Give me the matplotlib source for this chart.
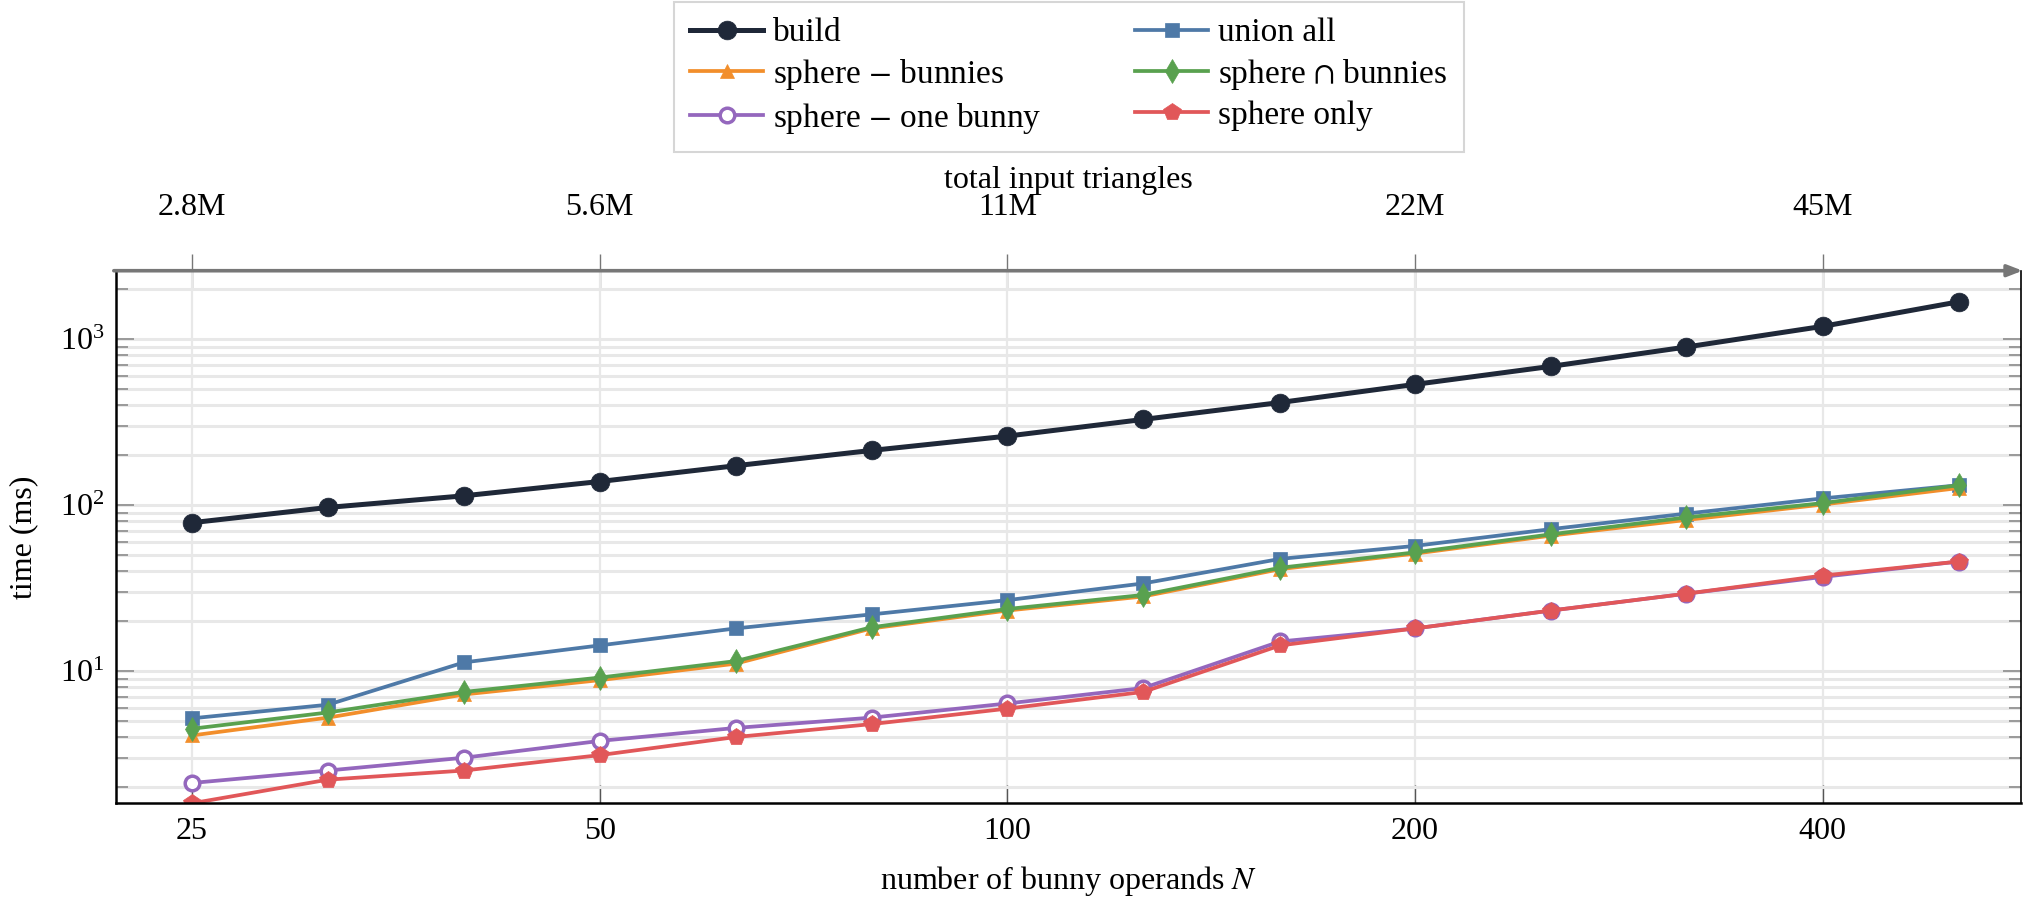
import matplotlib
matplotlib.use("Agg")
import matplotlib.pyplot as plt
from matplotlib.ticker import LogLocator, FixedLocator, NullFormatter, NullLocator

plt.rcParams['font.family'] = ['Liberation Serif', 'DejaVu Serif']
plt.rcParams['mathtext.fontset'] = 'stix'

# ---- data ----
n_bunnies = [25, 31.5, 39.7, 50, 63, 79.4, 100, 126, 159, 200, 252, 317, 400, 504]
build = [78.5, 97, 114, 139, 173, 214, 261, 329, 416, 535, 687, 898, 1197, 1683]
union_all = [5.2, 6.28, 11.3, 14.3, 18.1, 22.0, 26.8, 33.8, 47.5, 56.9, 71.8, 89.0, 110, 132]
sphere_minus_bunnies = [4.1, 5.25, 7.24, 8.83, 11.1, 18.1, 23.2, 28.2, 41.2, 51.1, 65.6, 81.5, 101, 127]
sphere_cap_bunnies = [4.5, 5.64, 7.5, 9.15, 11.5, 18.4, 23.7, 28.8, 42, 52, 66.8, 84.4, 103, 132]
sphere_minus_one = [2.12, 2.52, 3.01, 3.80, 4.55, 5.25, 6.39, 7.92, 15.1, 18.1, 23.2, 29.3, 37.0, 45.8]
sphere_only = [1.6, 2.22, 2.52, 3.12, 4.01, 4.80, 5.95, 7.50, 14.3, 18.1, 23.2, 29.3, 37.7, 45.8]

bottom_ticks = [25, 50, 100, 200, 400]
bottom_labels = ['25', '50', '100', '200', '400']
top_labels = ['2.8M', '5.6M', '11M', '22M', '45M']

series = [
    ('build', build, '#1f2838', 'o', 13.5, 3.6, 'full'),
    ('union all', union_all, '#4e79a7', 's', 10, 2.7, 'full'),
    (r'sphere $-$ bunnies', sphere_minus_bunnies, '#f28e2b', '^', 10.5, 2.7, 'full'),
    (r'sphere $\cap$ bunnies', sphere_cap_bunnies, '#59a14f', 'd', 12.5, 2.7, 'full'),
    (r'sphere $-$ one bunny', sphere_minus_one, '#9467bd', 'o', 10.5, 2.7, 'none'),
    ('sphere only', sphere_only, '#e15759', 'p', 13, 2.7, 'full'),
]

fig = plt.figure(figsize=(20.23, 8.97), dpi=100)
ax = fig.add_axes([0.0572, 0.1045, 0.99886 - 0.0572, 0.6982 - 0.1045])

handles = {}
for label, vals, color, marker, ms, lw, fill in series:
    if fill == 'none':
        h, = ax.plot(n_bunnies, vals, color=color, marker=marker, ms=ms, lw=lw,
                     markerfacecolor='white', markeredgewidth=2.5, label=label)
    else:
        h, = ax.plot(n_bunnies, vals, color=color, marker=marker, ms=ms, lw=lw,
                     markeredgewidth=0.5, label=label)
    handles[label] = h

ax.set_xscale('log', base=2)
ax.set_yscale('log')
ax.set_xlim(21.96, 560)
ax.set_ylim(1.6, 2590)

ax.xaxis.set_major_locator(FixedLocator(bottom_ticks))
ax.set_xticklabels(bottom_labels)
ax.xaxis.set_minor_locator(NullLocator())
ax.yaxis.set_major_locator(LogLocator(base=10, numticks=10))
ax.yaxis.set_minor_locator(LogLocator(base=10, subs=range(2, 10), numticks=100))
ax.yaxis.set_minor_formatter(NullFormatter())

ax.grid(True, which='major', axis='x', color='#e8e8e8', lw=1.6, zorder=0)
ax.grid(True, which='both', axis='y', color='#e8e8e8', lw=2.2, zorder=0)
ax.set_axisbelow(True)

ax.tick_params(axis='x', which='major', direction='in', length=13, width=1.0,
               color='#555555', labelsize=23, pad=10, top=False)
ax.tick_params(axis='y', which='major', direction='in', length=13, width=1.4,
               color='#999999', labelsize=23, right=True, pad=8)
ax.tick_params(axis='y', which='minor', direction='in', length=8.5, width=1.4,
               color='#999999', right=True)

for s in ['left', 'bottom']:
    ax.spines[s].set_linewidth(1.8)
    ax.spines[s].set_color('black')
ax.spines['right'].set_linewidth(1.2)
ax.spines['right'].set_color('black')
ax.spines['top'].set_visible(False)

ax.set_xlabel(r'number of bunny operands $N$', fontsize=23, labelpad=12.5)
ax.set_ylabel('time (ms)', fontsize=23, labelpad=16)

# top axis
sec = ax.secondary_xaxis('top')
sec.set_xscale('log', base=2)
sec.xaxis.set_major_locator(FixedLocator(bottom_ticks))
sec.set_xticklabels(top_labels)
sec.xaxis.set_minor_locator(NullLocator())
sec.spines['top'].set_visible(False)
sec.tick_params(axis='x', which='major', direction='inout', length=24, width=1.0,
                color='#777777', labelsize=23, pad=23)
sec.set_xlabel('total input triangles', fontsize=23, labelpad=3.5)

ax.annotate('', xy=(1.001, 1.0), xytext=(-0.001, 1.0), xycoords='axes fraction',
            arrowprops=dict(arrowstyle='-|>,head_length=0.9,head_width=0.35',
                            color='#777777', lw=2.6, shrinkA=0, shrinkB=0),
            annotation_clip=False)

order = ['build', r'sphere $-$ bunnies', r'sphere $-$ one bunny',
         'union all', r'sphere $\cap$ bunnies', 'sphere only']
leg = fig.legend(handles=[handles[k] for k in order], loc='upper center', ncol=2,
                 bbox_to_anchor=(0.5283, 0.998), borderaxespad=0, fontsize=24,
                 frameon=True, fancybox=False, edgecolor='#cccccc', handlelength=2.2,
                 columnspacing=2.8, handletextpad=0.3, borderpad=0.48,
                 labelspacing=0.26)
leg.get_frame().set_linewidth(1.5)

fig.savefig('out.png', dpi=100)
